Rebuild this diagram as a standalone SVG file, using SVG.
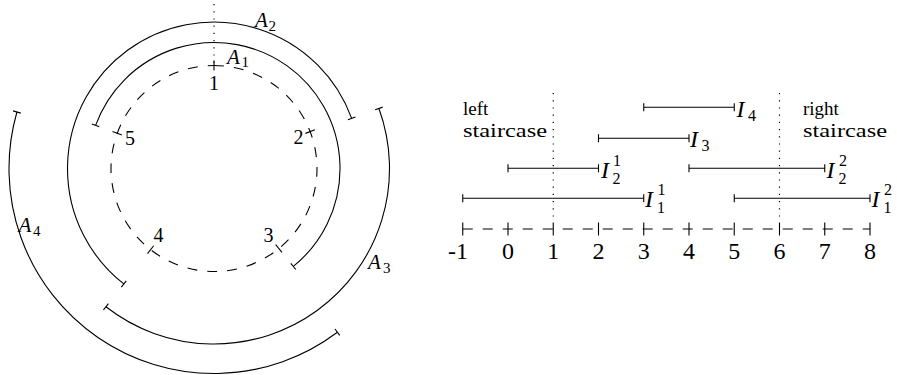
<svg xmlns="http://www.w3.org/2000/svg" width="897" height="375" viewBox="0 0 897 375">
<style>
.ln{fill:none;stroke:#000;stroke-width:1.1}
.dash{fill:none;stroke:#000;stroke-width:1.1;stroke-dasharray:10 10}
.dot{fill:none;stroke:#000;stroke-width:1.2;stroke-dasharray:1.2 6}
.t{font-family:'Liberation Serif','DejaVu Serif',serif;fill:#000}
.m{font-family:'Liberation Serif','DejaVu Serif',serif;font-style:italic;fill:#000}
.n{font-size:20px}
.ax{font-size:24px;text-anchor:middle}
.A{font-size:21px}
.s{font-size:15px}
.I{font-size:24px}
.ss{font-size:16px}
.w{font-size:19px}
</style>
<rect width="897" height="375" fill="#fff"/>

<!-- left: circle diagram -->
<g id="circle">
  <path class="dot" d="M214,4 L214,66"/>
  <path class="dash" d="M214,65.5 A103,103 0 1 1 214,271.5 A103,103 0 1 1 214,65.5"/>
  <g id="points" class="ln">
    <path d="M214,70.5 L214,60.5"/>
    <path d="M305.49,133.38 L314.83,129.79"/>
    <path d="M275.67,244.66 L281.96,252.43"/>
    <path d="M153.66,245.72 L147.50,253.60"/>
    <path d="M121.91,134.98 L112.51,131.56"/>
  </g>
  <text class="t n" x="214" y="90" text-anchor="middle">1</text>
  <text class="t n" x="293.5" y="144">2</text>
  <text class="t n" x="263.5" y="241.5">3</text>
  <text class="t n" x="153.5" y="241.5">4</text>
  <text class="t n" x="125" y="145">5</text>
</g>

<g id="A1">
  <path class="ln" d="M95.60,125.41 A126,126 0 1 1 293.29,266.41"/>
  <path class="ln" d="M99.36,126.78 L91.84,124.04 M290.77,263.31 L295.81,269.52"/>
  <text class="m A" x="227" y="63.5">A</text><text class="t s" x="241.5" y="67">1</text>
</g>
<g id="A2">
  <path class="ln" d="M123.80,283.94 A146.5,146.5 0 1 1 351.67,118.40"/>
  <path class="ln" d="M126.26,280.79 L121.34,287.09 M347.91,119.77 L355.42,117.03"/>
  <text class="m A" x="255" y="27">A</text><text class="t s" x="268.5" y="31">2</text>
</g>
<g id="A3">
  <path class="ln" d="M378.92,108.48 A175.5,175.5 0 0 1 105.94,306.79"/>
  <path class="ln" d="M375.16,109.85 L382.68,107.11 M108.41,303.64 L103.48,309.95"/>
  <text class="m A" x="368" y="268.5">A</text><text class="t s" x="383" y="272.5">3</text>
</g>
<g id="A4">
  <path class="ln" d="M337.37,332.21 A205,205 0 0 1 16.93,112.0"/>
  <path class="ln" d="M334.96,329.02 L339.78,335.41 M20.78,113.10 L13.09,110.90"/>
  <text class="m A" x="18.5" y="231.5">A</text><text class="t s" x="33" y="235.5">4</text>
</g>

<!-- right: interval diagram -->
<g id="axis">
  <path class="dash" d="M462.75,229 L870,229"/>
  <path class="ln" d="M462.75,222.5 V235.5 M508,222.5 V235.5 M553.25,222.5 V235.5 M598.5,222.5 V235.5 M643.75,222.5 V235.5 M689,222.5 V235.5 M734.25,222.5 V235.5 M779.5,222.5 V235.5 M824.75,222.5 V235.5 M870,222.5 V235.5"/>
  <text class="t ax" x="468" y="258.5" style="text-anchor:end">-1</text>
  <text class="t ax" x="508" y="258.5">0</text>
  <text class="t ax" x="553.25" y="258.5">1</text>
  <text class="t ax" x="598.5" y="258.5">2</text>
  <text class="t ax" x="643.75" y="258.5">3</text>
  <text class="t ax" x="689" y="258.5">4</text>
  <text class="t ax" x="734.25" y="258.5">5</text>
  <text class="t ax" x="779.5" y="258.5">6</text>
  <text class="t ax" x="824.75" y="258.5">7</text>
  <text class="t ax" x="870" y="258.5">8</text>
</g>
<g id="staircases">
  <path class="dot" d="M553.25,93 L553.25,222"/>
  <path class="dot" d="M779.5,93 L779.5,222"/>
  <text class="t w" x="463" y="115">left</text>
  <text class="t w" x="463" y="136.7" textLength="84" lengthAdjust="spacingAndGlyphs">staircase</text>
  <text class="t w" x="803" y="115">right</text>
  <text class="t w" x="803" y="136.7" textLength="84" lengthAdjust="spacingAndGlyphs">staircase</text>
</g>

<g id="I4">
  <path class="ln" d="M643.75,107.3 H734.25 M643.75,103.3 V111.3 M734.25,103.3 V111.3"/>
  <text class="m I" x="736.5" y="116.7">I</text><text class="t ss" x="748" y="121">4</text>
</g>
<g id="I3">
  <path class="ln" d="M598.5,138.3 H689 M598.5,134.3 V142.3 M689,134.3 V142.3"/>
  <text class="m I" x="690" y="146.7">I</text><text class="t ss" x="701.5" y="151">3</text>
</g>
<g id="I2-1">
  <path class="ln" d="M508,168.3 H598.5 M508,164.3 V172.3 M598.5,164.3 V172.3"/>
  <text class="m I" x="601" y="177.5">I</text><text class="t ss" x="613" y="165.5">1</text><text class="t ss" x="612.5" y="183.5">2</text>
</g>
<g id="I2-2">
  <path class="ln" d="M689,168.3 H824.75 M689,164.3 V172.3 M824.75,164.3 V172.3"/>
  <text class="m I" x="826.5" y="177.5">I</text><text class="t ss" x="839" y="165.5">2</text><text class="t ss" x="838.5" y="183.5">2</text>
</g>
<g id="I1-1">
  <path class="ln" d="M462.75,198.3 H643.75 M462.75,194.3 V202.3 M643.75,194.3 V202.3"/>
  <text class="m I" x="645" y="207.3">I</text><text class="t ss" x="657.5" y="195">1</text><text class="t ss" x="657" y="212.5">1</text>
</g>
<g id="I1-2">
  <path class="ln" d="M734.25,198.3 H870 M734.25,194.3 V202.3 M870,194.3 V202.3"/>
  <text class="m I" x="871.5" y="207.3">I</text><text class="t ss" x="884" y="195">2</text><text class="t ss" x="883.5" y="212.5">1</text>
</g>
</svg>
